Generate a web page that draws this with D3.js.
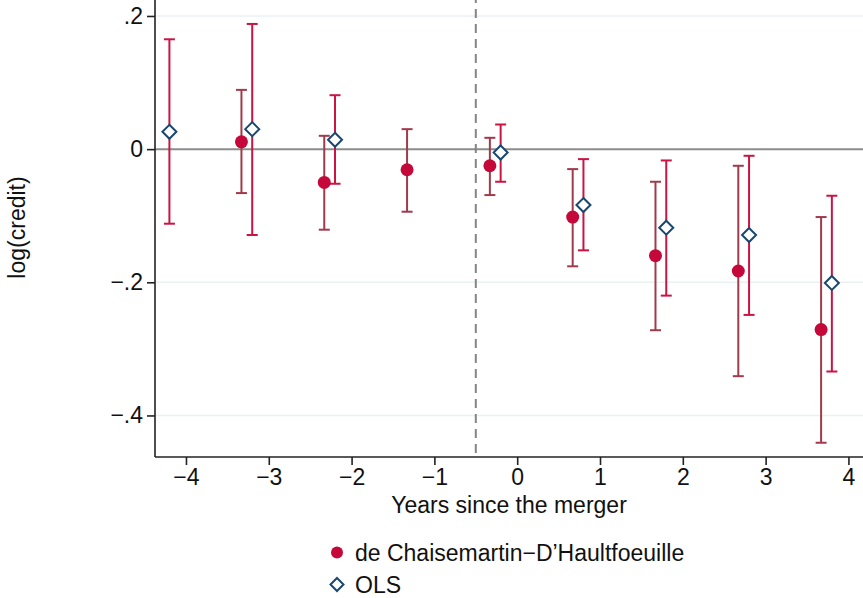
<!DOCTYPE html>
<html>
<head>
<meta charset="utf-8">
<script src="https://cdn.jsdelivr.net/npm/d3@7/dist/d3.min.js"></script>
<style>
  html, body { margin: 0; padding: 0; background: #fff; }
  svg { display: block; font-family: "Liberation Sans", Arial, Helvetica, sans-serif; }
</style>
</head>
<body>
<svg id="chart" width="863" height="598"></svg>
<script>
// Event-study estimates of log(credit) around the merger
const dcdhYears = [-3.33, -2.33, -1.33, -0.33, 0.67, 1.67, 2.67, 3.67];
const dcdhEst   = [0.011, -0.050, -0.031, -0.025, -0.102, -0.160, -0.183, -0.271];
const dcdhLow   = [-0.066, -0.121, -0.094, -0.069, -0.176, -0.272, -0.341, -0.441];
const dcdhHigh  = [0.089, 0.020, 0.030, 0.017, -0.030, -0.049, -0.025, -0.102];

const olsYears = [-4.2, -3.2, -2.2, -0.2, 0.8, 1.8, 2.8, 3.8];
const olsEst   = [0.026, 0.030, 0.014, -0.005, -0.084, -0.118, -0.129, -0.201];
const olsLow   = [-0.112, -0.129, -0.052, -0.049, -0.152, -0.220, -0.249, -0.334];
const olsHigh  = [0.165, 0.188, 0.081, 0.037, -0.015, -0.017, -0.010, -0.070];

const xTicks = [-4, -3, -2, -1, 0, 1, 2, 3, 4];
const yTicks = [0.2, 0, -0.2, -0.4];
const yTickLabels = [".2", "0", "\u2212.2", "\u2212.4"];
const xTitle = "Years since the merger";
const yTitle = "log(credit)";
const legendLabels = ["de Chaisemartin\u2212D\u2019Haultfoeuille", "OLS"];
const mergerLine = -0.5;

const colDot = "#c4093a";
const colDcdhCI = "#a13a4b";
const colOlsCI = "#cb1442";
const colDiamond = "#1a476f";
const fontSize = 23;

const svg = d3.select("#chart");
const plot = { left: 155, right: 863, top: -6, bottom: 457 };

const x = d3.scaleLinear()
  .domain([-4.374, 4.176])
  .range([plot.left, plot.right]);
const y = d3.scaleLinear()
  .domain([-0.4624, 0.2330])
  .range([plot.bottom, plot.top]);

// light horizontal grid lines
svg.append("g").selectAll("line")
  .data(yTicks.filter(d => d !== 0))
  .join("line")
  .attr("x1", plot.left).attr("x2", plot.right)
  .attr("y1", d => y(d)).attr("y2", d => y(d))
  .attr("stroke", "#eaf1f3").attr("stroke-width", 1.6);

// zero reference line
svg.append("line")
  .attr("x1", plot.left).attr("x2", plot.right)
  .attr("y1", y(0)).attr("y2", y(0))
  .attr("stroke", "#8c8c8c").attr("stroke-width", 2);

// merger timing
svg.append("line")
  .attr("x1", x(mergerLine)).attr("x2", x(mergerLine))
  .attr("y1", plot.top).attr("y2", plot.bottom)
  .attr("stroke", "#858585").attr("stroke-width", 2)
  .attr("stroke-dasharray", "9,6");

// axes
const yAxis = d3.axisLeft(y).tickValues(yTicks)
  .tickFormat((d, i) => yTickLabels[i]).tickSize(8).tickPadding(4);
const gy = svg.append("g").attr("transform", `translate(${plot.left},0)`).call(yAxis);
gy.select(".domain").attr("stroke", "#222").attr("stroke-width", 1.6)
  .attr("d", `M0,${plot.top}V${plot.bottom}`);
gy.selectAll(".tick line").attr("stroke", "#222").attr("stroke-width", 1.6);
gy.selectAll(".tick text").attr("font-size", fontSize).attr("fill", "#111")
  .attr("font-family", "Liberation Sans, Arial, sans-serif");

const xAxis = d3.axisBottom(x).tickValues(xTicks)
  .tickFormat(d => d < 0 ? "\u2212" + Math.abs(d) : String(d)).tickSize(8).tickPadding(4);
const gx = svg.append("g").attr("transform", `translate(0,${plot.bottom})`).call(xAxis);
gx.select(".domain").attr("stroke", "#222").attr("stroke-width", 1.6)
  .attr("d", `M${plot.left},0H${plot.right}`);
gx.selectAll(".tick line").attr("stroke", "#222").attr("stroke-width", 1.6);
gx.selectAll(".tick text").attr("font-size", fontSize).attr("fill", "#111")
  .attr("font-family", "Liberation Sans, Arial, sans-serif");

// axis titles
svg.append("text")
  .attr("x", (plot.left + plot.right) / 2).attr("y", 513)
  .attr("text-anchor", "middle").attr("font-size", fontSize).attr("fill", "#111")
  .text(xTitle);
svg.append("text")
  .attr("transform", `translate(25,${(plot.top + plot.bottom) / 2 + 2}) rotate(-90)`)
  .attr("text-anchor", "middle").attr("font-size", fontSize).attr("fill", "#111")
  .text(yTitle);

// confidence intervals with caps
function drawCI(xs, lo, hi, color) {
  const g = svg.append("g").attr("stroke", color).attr("stroke-width", 2).attr("fill", "none");
  const cap = 5.5;
  xs.forEach((xv, i) => {
    const cx = x(xv);
    g.append("line").attr("x1", cx).attr("x2", cx).attr("y1", y(lo[i])).attr("y2", y(hi[i]));
    g.append("line").attr("x1", cx - cap).attr("x2", cx + cap).attr("y1", y(lo[i])).attr("y2", y(lo[i]));
    g.append("line").attr("x1", cx - cap).attr("x2", cx + cap).attr("y1", y(hi[i])).attr("y2", y(hi[i]));
  });
}
drawCI(dcdhYears, dcdhLow, dcdhHigh, colDcdhCI);
drawCI(olsYears, olsLow, olsHigh, colOlsCI);

// point estimates
const diamondPath = (cx, cy, r) => `M${cx},${cy - r}L${cx + r},${cy}L${cx},${cy + r}L${cx - r},${cy}Z`;

svg.append("g").selectAll("circle")
  .data(dcdhYears)
  .join("circle")
  .attr("cx", d => x(d)).attr("cy", (d, i) => y(dcdhEst[i]))
  .attr("r", 6.5).attr("fill", colDot);

svg.append("g").selectAll("path")
  .data(olsYears)
  .join("path")
  .attr("d", (d, i) => diamondPath(x(d), y(olsEst[i]), 7))
  .attr("fill", "#fff").attr("stroke", colDiamond).attr("stroke-width", 2);

// legend
const lg = svg.append("g");
lg.append("circle").attr("cx", 337).attr("cy", 552.5).attr("r", 6).attr("fill", colDot);
lg.append("text").attr("x", 355).attr("y", 552.5).attr("dy", "0.35em")
  .attr("font-size", fontSize).attr("fill", "#111").text(legendLabels[0]);
lg.append("path").attr("d", diamondPath(337, 584.5, 6.5))
  .attr("fill", "#fff").attr("stroke", colDiamond).attr("stroke-width", 2);
lg.append("text").attr("x", 355).attr("y", 584.5).attr("dy", "0.35em")
  .attr("font-size", fontSize).attr("fill", "#111").text(legendLabels[1]);
</script>
</body>
</html>
